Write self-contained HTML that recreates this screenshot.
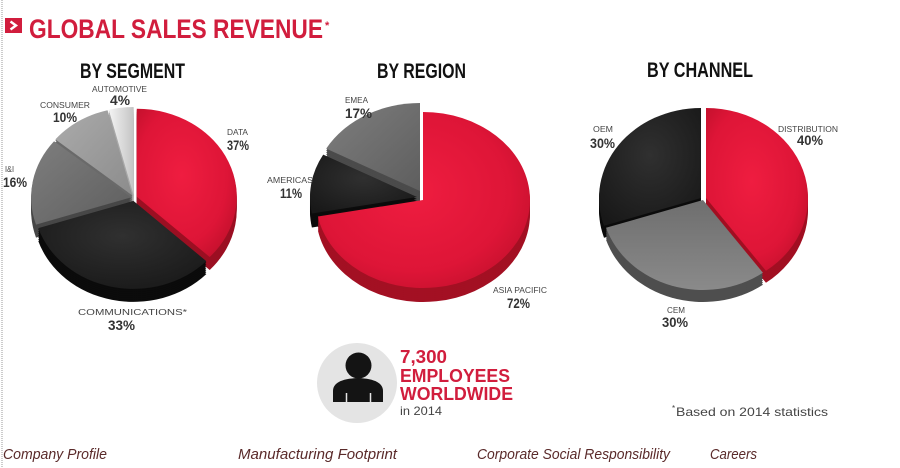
<!DOCTYPE html>
<html>
<head>
<meta charset="utf-8">
<style>
html,body{margin:0;padding:0;background:#fff;}
svg{display:block;}
text{font-family:"Liberation Sans",Arial,sans-serif;}
</style>
</head>
<body>
<svg width="900" height="468" viewBox="0 0 900 468" xmlns="http://www.w3.org/2000/svg">
<defs>
  <radialGradient id="gR" cx="45%" cy="45%" r="65%">
    <stop offset="0" stop-color="#ef1d40"/>
    <stop offset="0.7" stop-color="#de1537"/>
    <stop offset="1" stop-color="#c2102c"/>
  </radialGradient>
  <radialGradient id="gK" cx="50%" cy="40%" r="70%">
    <stop offset="0" stop-color="#303030"/>
    <stop offset="1" stop-color="#181818"/>
  </radialGradient>
  <linearGradient id="gG" x1="0" y1="0" x2="1" y2="1">
    <stop offset="0" stop-color="#7e7e7e"/>
    <stop offset="1" stop-color="#5e5e5e"/>
  </linearGradient>
  <linearGradient id="gG3" x1="0" y1="0" x2="0" y2="1">
    <stop offset="0" stop-color="#6e6e6e"/>
    <stop offset="1" stop-color="#8a8a8a"/>
  </linearGradient>
  <linearGradient id="gL" x1="0" y1="0" x2="1" y2="1">
    <stop offset="0" stop-color="#ababab"/>
    <stop offset="1" stop-color="#8c8c8c"/>
  </linearGradient>
  <linearGradient id="gW" x1="0" y1="0" x2="1" y2="0">
    <stop offset="0" stop-color="#f4f4f4"/>
    <stop offset="1" stop-color="#c4c4c4"/>
  </linearGradient>

  <path id="a1" d="M0,0 L0,-88 A100,88 0 0 1 72.9,60.2 Z"/>
  <path id="a2" d="M0,0 L72.9,60.2 A100,88 0 0 1 -95.1,27.2 Z"/>
  <path id="a3" d="M0,0 L-95.1,27.2 A100,88 0 0 1 -77.05,-56.1 Z"/>
  <path id="a4" d="M0,0 L-77.05,-56.1 A100,88 0 0 1 -24.87,-85.2 Z"/>
  <path id="a5" d="M0,0 L-24.87,-85.2 A100,88 0 0 1 0,-88 Z"/>
  <path id="b1" d="M0,0 L0,-88 A107,88 0 1 1 -105.1,16.5 Z"/>
  <path id="b2" d="M0,0 L-105.1,16.5 A107,88 0 0 1 -93.8,-42.4 Z"/>
  <path id="b3" d="M0,0 L-93.8,-42.4 A107,88 0 0 1 0,-88 Z"/>
  <path id="c1" d="M0,0 L0,-90 A102,90 0 0 1 59.96,72.81 Z"/>
  <path id="c2" d="M0,0 L59.96,72.81 A102,90 0 0 1 -97,27.81 Z"/>
  <path id="c3" d="M0,0 L-97,27.81 A102,90 0 0 1 0,-90 Z"/>
</defs>

<line x1="2" y1="0" x2="2" y2="468" stroke="#9a9a9a" stroke-width="1" stroke-dasharray="1,1"/>

<rect x="5" y="18" width="17" height="15" fill="#d11d3d"/>
<path d="M10.5,21.5 L16,25.5 L10.5,29.5" fill="none" stroke="#fff" stroke-width="2.4"/>
<text x="29" y="38" font-size="27" font-weight="bold" fill="#d11d3d" textLength="294" lengthAdjust="spacingAndGlyphs">GLOBAL SALES REVENUE</text>
<text x="325" y="29" font-size="11" font-weight="bold" fill="#d11d3d">*</text>

<text x="80" y="78" font-size="21" font-weight="bold" fill="#111" textLength="105" lengthAdjust="spacingAndGlyphs">BY SEGMENT</text>
<text x="377" y="78" font-size="21" font-weight="bold" fill="#111" textLength="89" lengthAdjust="spacingAndGlyphs">BY REGION</text>
<text x="647" y="77" font-size="21" font-weight="bold" fill="#111" textLength="106" lengthAdjust="spacingAndGlyphs">BY CHANNEL</text>

<g transform="translate(133.6,195.0)" fill="#a8a8a8"><use href="#a5" y="13"/><use href="#a5" y="11"/><use href="#a5" y="9"/><use href="#a5" y="7"/><use href="#a5" y="5"/><use href="#a5" y="3"/><use href="#a5" y="1"/></g>
<g transform="translate(132.4,195.5)" fill="#6a6a6a"><use href="#a4" y="13"/><use href="#a4" y="11"/><use href="#a4" y="9"/><use href="#a4" y="7"/><use href="#a4" y="5"/><use href="#a4" y="3"/><use href="#a4" y="1"/></g>
<g transform="translate(131.1,197.4)" fill="#474747"><use href="#a3" y="13"/><use href="#a3" y="11"/><use href="#a3" y="9"/><use href="#a3" y="7"/><use href="#a3" y="5"/><use href="#a3" y="3"/><use href="#a3" y="1"/></g>
<g transform="translate(136.8,196.8)" fill="#9b0f22"><use href="#a1" y="13"/><use href="#a1" y="11"/><use href="#a1" y="9"/><use href="#a1" y="7"/><use href="#a1" y="5"/><use href="#a1" y="3"/><use href="#a1" y="1"/></g>
<g transform="translate(133.4,200.9)" fill="#0b0b0b"><use href="#a2" y="13"/><use href="#a2" y="11"/><use href="#a2" y="9"/><use href="#a2" y="7"/><use href="#a2" y="5"/><use href="#a2" y="3"/><use href="#a2" y="1"/></g>
<use href="#a5" transform="translate(133.6,195.0)" fill="url(#gW)"/>
<use href="#a4" transform="translate(132.4,195.5)" fill="url(#gL)"/>
<use href="#a3" transform="translate(131.1,197.4)" fill="url(#gG)"/>
<use href="#a1" transform="translate(136.8,196.8)" fill="url(#gR)"/>
<use href="#a2" transform="translate(133.4,200.9)" fill="url(#gK)"/>

<g transform="translate(420,191)" fill="#4b4b4b"><use href="#b3" y="14"/><use href="#b3" y="12"/><use href="#b3" y="10"/><use href="#b3" y="8"/><use href="#b3" y="6"/><use href="#b3" y="4"/><use href="#b3" y="2"/></g>
<g transform="translate(417,197)" fill="#0b0b0b"><use href="#b2" y="14"/><use href="#b2" y="12"/><use href="#b2" y="10"/><use href="#b2" y="8"/><use href="#b2" y="6"/><use href="#b2" y="4"/><use href="#b2" y="2"/></g>
<g transform="translate(423,200)" fill="#a31023"><use href="#b1" y="14"/><use href="#b1" y="12"/><use href="#b1" y="10"/><use href="#b1" y="8"/><use href="#b1" y="6"/><use href="#b1" y="4"/><use href="#b1" y="2"/></g>
<use href="#b3" transform="translate(420,191)" fill="url(#gG)"/>
<use href="#b2" transform="translate(417,197)" fill="url(#gK)"/>
<use href="#b1" transform="translate(423,200)" fill="url(#gR)"/>

<g transform="translate(701,198)" fill="#0b0b0b"><use href="#c3" y="12"/><use href="#c3" y="10"/><use href="#c3" y="8"/><use href="#c3" y="6"/><use href="#c3" y="4"/><use href="#c3" y="2"/></g>
<g transform="translate(706,198)" fill="#a10f22"><use href="#c1" y="12"/><use href="#c1" y="10"/><use href="#c1" y="8"/><use href="#c1" y="6"/><use href="#c1" y="4"/><use href="#c1" y="2"/></g>
<g transform="translate(703,200)" fill="#4e4e4e"><use href="#c2" y="12"/><use href="#c2" y="10"/><use href="#c2" y="8"/><use href="#c2" y="6"/><use href="#c2" y="4"/><use href="#c2" y="2"/></g>
<use href="#c3" transform="translate(701,198)" fill="url(#gK)"/>
<use href="#c1" transform="translate(706,198)" fill="url(#gR)"/>
<use href="#c2" transform="translate(703,200)" fill="url(#gG3)"/>

<g fill="#444" font-size="8">
  <text x="92" y="92" textLength="55" lengthAdjust="spacingAndGlyphs">AUTOMOTIVE</text>
  <text x="40" y="108" textLength="50" lengthAdjust="spacingAndGlyphs">CONSUMER</text>
  <text x="227" y="135" textLength="21" lengthAdjust="spacingAndGlyphs">DATA</text>
  <text x="5" y="172" textLength="9" lengthAdjust="spacingAndGlyphs">I&amp;I</text>
  <text x="78" y="315" textLength="109" lengthAdjust="spacingAndGlyphs">COMMUNICATIONS*</text>
  <text x="345" y="103" textLength="23" lengthAdjust="spacingAndGlyphs">EMEA</text>
  <text x="267" y="183" textLength="46" lengthAdjust="spacingAndGlyphs">AMERICAS</text>
  <text x="493" y="293" textLength="54" lengthAdjust="spacingAndGlyphs">ASIA PACIFIC</text>
  <text x="593" y="132" textLength="20" lengthAdjust="spacingAndGlyphs">OEM</text>
  <text x="778" y="132" textLength="60" lengthAdjust="spacingAndGlyphs">DISTRIBUTION</text>
  <text x="667" y="313" textLength="18" lengthAdjust="spacingAndGlyphs">CEM</text>
</g>
<g fill="#333" font-size="13.5" font-weight="bold">
  <text x="110" y="105" textLength="20" lengthAdjust="spacingAndGlyphs">4%</text>
  <text x="53" y="122" textLength="24" lengthAdjust="spacingAndGlyphs">10%</text>
  <text x="227" y="150" textLength="22" lengthAdjust="spacingAndGlyphs">37%</text>
  <text x="3" y="187" textLength="24" lengthAdjust="spacingAndGlyphs">16%</text>
  <text x="108" y="330" textLength="27" lengthAdjust="spacingAndGlyphs">33%</text>
  <text x="345" y="118" textLength="27" lengthAdjust="spacingAndGlyphs">17%</text>
  <text x="280" y="198" textLength="22" lengthAdjust="spacingAndGlyphs">11%</text>
  <text x="507" y="308" textLength="23" lengthAdjust="spacingAndGlyphs">72%</text>
  <text x="590" y="148" textLength="25" lengthAdjust="spacingAndGlyphs">30%</text>
  <text x="797" y="145" textLength="26" lengthAdjust="spacingAndGlyphs">40%</text>
  <text x="662" y="327" textLength="26" lengthAdjust="spacingAndGlyphs">30%</text>
</g>

<circle cx="357" cy="383" r="40" fill="#e4e4e4"/>
<circle cx="358.5" cy="365.5" r="13" fill="#141414"/>
<path d="M333,402 L333,391 Q333,379 358,378 Q383,379 383,391 L383,402 Z" fill="#141414"/>
<line x1="346.5" y1="393" x2="346.5" y2="402" stroke="#e4e4e4" stroke-width="1.5"/>
<line x1="370.5" y1="393" x2="370.5" y2="402" stroke="#e4e4e4" stroke-width="1.5"/>
<g fill="#d11d3d" font-weight="bold" font-size="18">
  <text x="400" y="363" textLength="47" lengthAdjust="spacingAndGlyphs">7,300</text>
  <text x="400" y="382" textLength="110" lengthAdjust="spacingAndGlyphs">EMPLOYEES</text>
  <text x="400" y="400" textLength="113" lengthAdjust="spacingAndGlyphs">WORLDWIDE</text>
</g>
<text x="400" y="415" font-size="12" fill="#444" textLength="42" lengthAdjust="spacingAndGlyphs">in 2014</text>

<text x="672" y="411" font-size="8" fill="#444">*</text>
<text x="676" y="416" font-size="12" fill="#444" textLength="152" lengthAdjust="spacingAndGlyphs">Based on 2014 statistics</text>

<g fill="#5a2a2a" font-size="15" font-style="italic">
  <text x="3" y="459" textLength="104" lengthAdjust="spacingAndGlyphs">Company Profile</text>
  <text x="238" y="459" textLength="159" lengthAdjust="spacingAndGlyphs">Manufacturing Footprint</text>
  <text x="477" y="459" textLength="193" lengthAdjust="spacingAndGlyphs">Corporate Social Responsibility</text>
  <text x="710" y="459" textLength="47" lengthAdjust="spacingAndGlyphs">Careers</text>
</g>
</svg>
</body>
</html>
